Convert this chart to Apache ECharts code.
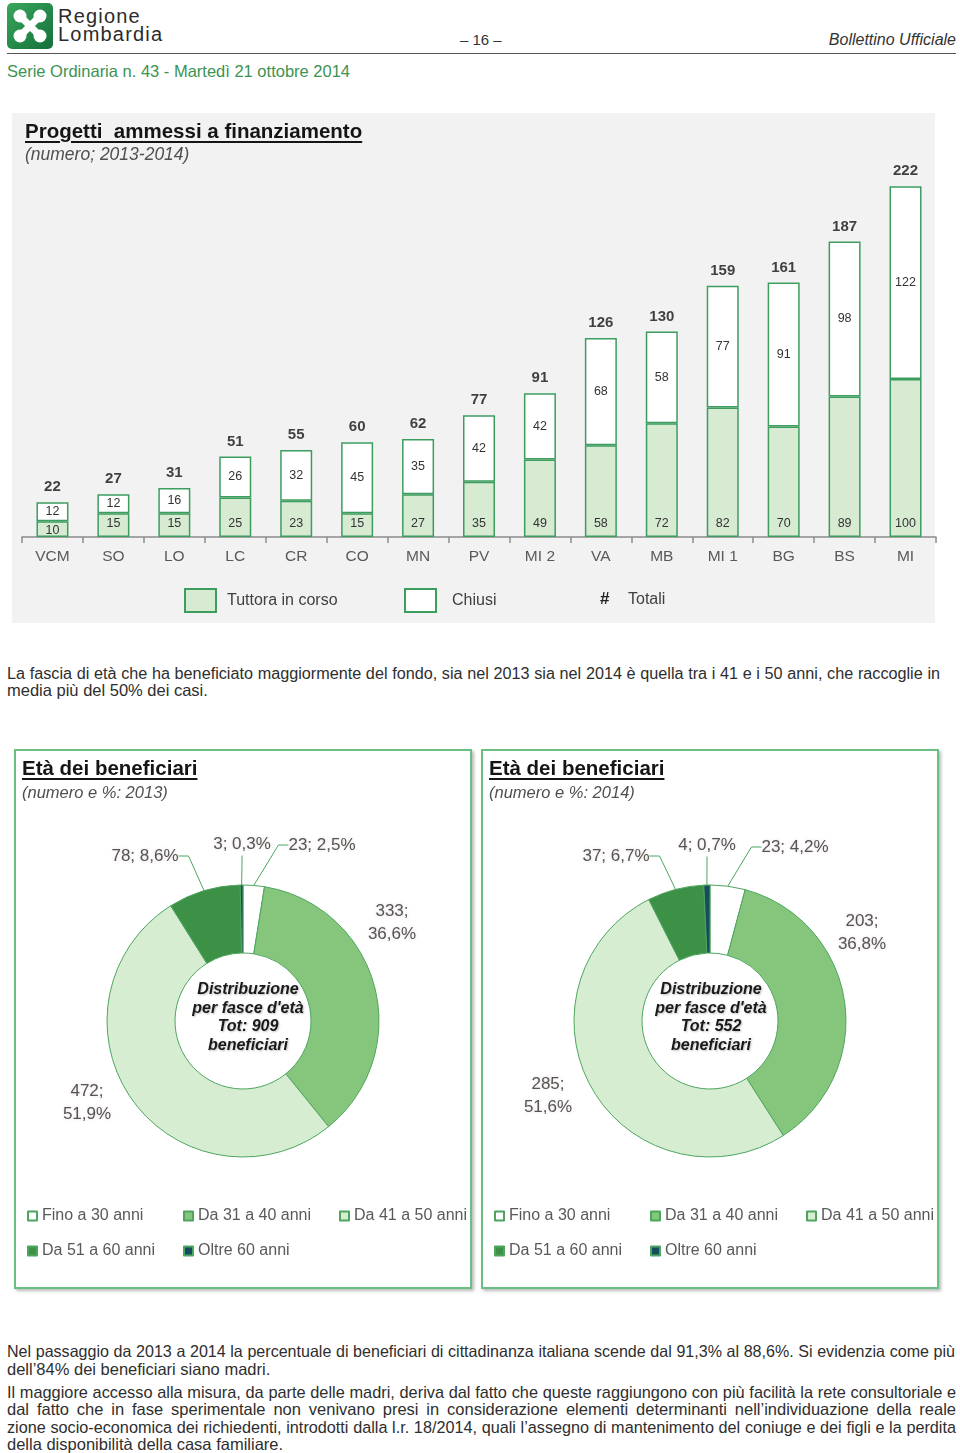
<!DOCTYPE html>
<html lang="it">
<head>
<meta charset="utf-8">
<title>Progetti ammessi a finanziamento – Età dei beneficiari</title>
<script src="https://cdn.jsdelivr.net/npm/echarts@6/dist/echarts.min.js"></script>
<style>
  html, body { margin:0; padding:0; background:#fff; }
  body { position:relative; width:960px; height:1453px; overflow:hidden; font-family:'Liberation Sans', Arial, sans-serif; color:#333; }
  .a { position:absolute; white-space:nowrap; }
  .ln { position:absolute; left:7px; font-size:16.5px; line-height:18px; height:18px; color:#2e2e2e; white-space:nowrap; }
  .j { overflow:hidden; }
  .box { position:absolute; box-sizing:border-box; }
  .ttl { font-weight:bold; font-size:20.5px; text-decoration:underline; text-decoration-thickness:2px; text-underline-offset:3px; color:#151515; }
  .sub { font-style:italic; color:#505050; }
  .ctr { position:absolute; width:160px; text-align:center; font-weight:bold; font-style:italic; font-size:16px; line-height:18.5px; color:#1a1a1a; text-shadow:1px 1px 2px rgba(0,0,0,0.25); }
  .chart { position:absolute; }
</style>
</head>
<body>
<!-- header -->
<svg class="a" style="left:7px;top:3px" width="46" height="46" viewBox="0 0 46 46">
  <defs><linearGradient id="lg" x1="0" y1="0" x2="1" y2="1"><stop offset="0" stop-color="#3aa65c"/><stop offset="1" stop-color="#14703a"/></linearGradient></defs>
  <rect x="0" y="0" width="46" height="46" rx="5" fill="url(#lg)"/>
  <path d="M14 14 L32 32 M32 14 L14 32" stroke="#fff" stroke-width="7" stroke-linecap="round"/>
  <g fill="#fff"><circle cx="13" cy="13" r="6.5"/><circle cx="33" cy="13" r="6.5"/><circle cx="13" cy="33" r="6.5"/><circle cx="33" cy="33" r="6.5"/></g>
</svg>
<div class="a" style="left:58px;top:6px;font-size:20px;line-height:20px;color:#2b2b2b;letter-spacing:1.2px">Regione</div>
<div class="a" style="left:58px;top:24px;font-size:20px;line-height:20px;color:#2b2b2b;letter-spacing:1.2px">Lombardia</div>
<div class="a" style="left:460px;top:31px;font-size:15px;line-height:18px;color:#333">– 16 –</div>
<div class="a" style="right:4px;top:30px;font-size:16px;line-height:19px;font-style:italic;color:#333">Bollettino Ufficiale</div>
<div class="a" style="left:7px;top:53px;width:949px;border-top:1.5px solid #555"></div>
<div class="a" style="left:7px;top:61px;font-size:16.5px;line-height:20px;color:#3c9352">Serie Ordinaria n. 43 - Martedì 21 ottobre 2014</div>

<!-- bar chart box -->
<div class="box" style="left:12px;top:113px;width:923px;height:510px;background:#f2f2f2"></div>
<div id="bar" class="chart" style="left:12px;top:113px;width:930px;height:510px"></div>
<div class="a ttl" style="left:25px;top:119px">Progetti&nbsp; ammessi a finanziamento</div>
<div class="a sub" style="left:25px;top:144px;font-size:17.5px;line-height:20px">(numero; 2013-2014)</div>

<!-- paragraph 1 -->
<div class="ln j" data-w="933" style="top:664px">La fascia di età che ha beneficiato maggiormente del fondo, sia nel 2013 sia nel 2014 è quella tra i 41 e i 50 anni, che raccoglie in</div>
<div class="ln" style="top:681px">media più del 50% dei casi.</div>

<!-- pie boxes -->
<div class="box" style="left:14px;top:749px;width:458px;height:540px;border:2px solid #6cbf84;box-shadow:2px 2px 3px rgba(0,0,0,0.28);background:#fff"></div>
<div class="box" style="left:481px;top:749px;width:458px;height:540px;border:2px solid #6cbf84;box-shadow:2px 2px 3px rgba(0,0,0,0.28);background:#fff"></div>
<div id="pie2013" class="chart" style="left:14px;top:749px;width:458px;height:540px"></div>
<div id="pie2014" class="chart" style="left:481px;top:749px;width:458px;height:540px"></div>
<div class="a ttl" style="left:22px;top:756px">Età dei beneficiari</div>
<div class="a sub" style="left:22px;top:782px;font-size:16.5px;line-height:20px">(numero e %: 2013)</div>
<div class="a ttl" style="left:489px;top:756px">Età dei beneficiari</div>
<div class="a sub" style="left:489px;top:782px;font-size:16.5px;line-height:20px">(numero e %: 2014)</div>
<div class="ctr" style="left:168px;top:980px">Distribuzione<br>per fasce d'età<br>Tot: 909<br>beneficiari</div>
<div class="ctr" style="left:631px;top:980px">Distribuzione<br>per fasce d'età<br>Tot: 552<br>beneficiari</div>

<!-- paragraphs 2 and 3 -->
<div class="ln j" data-w="948" style="top:1342px">Nel passaggio da 2013 a 2014 la percentuale di beneficiari di cittadinanza italiana scende dal 91,3% al 88,6%. Si evidenzia come più</div>
<div class="ln" style="top:1360px">dell’84% dei beneficiari siano madri.</div>
<div class="ln j" data-w="949" style="top:1383px">Il maggiore accesso alla misura, da parte delle madri, deriva dal fatto che queste raggiungono con più facilità la rete consultoriale e</div>
<div class="ln j" data-w="949" style="top:1400px">dal fatto che in fase sperimentale non venivano presi in considerazione elementi determinanti nell’individuazione della reale condi-</div>
<div class="ln j" data-w="949" style="top:1418px">zione socio-economica dei richiedenti, introdotti dalla l.r. 18/2014, quali l’assegno di mantenimento del coniuge e dei figli e la perdita</div>
<div class="ln" style="top:1435px">della disponibilità della casa familiare.</div>

<script>
// ---------- data ----------
const categories = ['VCM','SO','LO','LC','CR','CO','MN','PV','MI 2','VA','MB','MI 1','BG','BS','MI'];
const inCorso = [10,15,15,25,23,15,27,35,49,58,72,82,70,89,100];
const chiusi  = [12,12,16,26,32,45,35,42,42,68,58,77,91,98,122];
const totali  = [22,27,31,51,55,60,62,77,91,126,130,159,161,187,222];

const ageBands = ['Fino a 30 anni','Da 31 a 40 anni','Da 41 a 50 anni','Da 51 a 60 anni','Oltre 60 anni'];
const beneficiari2013 = [23,333,472,78,3];
const beneficiari2014 = [23,203,285,37,4];

// ---------- justified text lines: fit font, then justify ----------
document.querySelectorAll('.ln.j').forEach(el => {
  const target = +el.dataset.w;
  const natural = el.scrollWidth;
  if (natural > target) {
    el.style.fontSize = (16.5 * (target - 3) / natural).toFixed(2) + 'px';
  }
  el.style.width = target + 'px';
  el.style.whiteSpace = 'normal';
  el.style.textAlign = 'justify';
  el.style.textAlignLast = 'justify';
});

// ---------- styles ----------
const FONT = "'Liberation Sans', Arial, sans-serif";
const GREEN_BORDER = '#3d9d5f';
const ageColors = ['#ffffff','#86c67c','#d7edd1','#3c9146','#164c5e'];
const pieCenter = [229, 272];
const labelOffsets2013 = [[79,-176],[149,-98],[-156,82],[-98,-165],[-1,-177]];
const labelOffsets2014 = [[85,-174],[152,-88],[-162,75],[-94,-165],[-3,-176]];
// legend slot (left, top) inside each pie panel, one per age band
const legendSlots = [[13,459],[169,459],[325,459],[13,494],[169,494]];

// ---------- bar chart ----------
const bar = echarts.init(document.getElementById('bar'));
bar.setOption({
  animation: false,
  textStyle: { fontFamily: FONT },
  grid: { left: 10, width: 914, top: 29, bottom: 86, containLabel: false, outerBoundsMode: 'none' },
  xAxis: {
    type: 'category', data: categories,
    axisLine: { lineStyle: { color: '#8c8c8c', width: 1.5 } },
    axisTick: { show: true, length: 6, lineStyle: { color: '#8c8c8c', width: 1.5 } },
    axisLabel: { color: '#595959', fontSize: 15.5, margin: 12, interval: 0, fontFamily: FONT }
  },
  yAxis: { type: 'value', min: 0, max: 250, show: false, splitLine: { show: false } },
  legend: [
    { data: ['Tuttora in corso'], left: 172, top: 475, padding: 0, itemWidth: 31, itemHeight: 23, selectedMode: false, icon: 'rect',
      textStyle: { fontSize: 16, color: '#404040', padding: [0,0,0,6], fontFamily: FONT } },
    { data: ['Chiusi'], left: 392, top: 475, padding: 0, itemWidth: 31, itemHeight: 23, selectedMode: false, icon: 'rect',
      textStyle: { fontSize: 16, color: '#404040', padding: [0,0,0,11], fontFamily: FONT } },
    { data: ['Totali'], left: 582, top: 475, padding: 0, itemWidth: 1, itemHeight: 1, selectedMode: false, icon: 'rect',
      itemStyle: { color: 'rgba(0,0,0,0)', borderWidth: 0 },
      formatter: '{h|#}{t|{name}}',
      textStyle: { fontFamily: FONT, lineHeight: 23,
        rich: { h: { fontWeight: 'bold', fontSize: 17, color: '#222', width: 28 },
                t: { fontSize: 16, color: '#404040' } } } }
  ],
  series: [
    { name: 'Tuttora in corso', type: 'bar', stack: 'tot', barWidth: 32,
      // very short segments keep their label lower, as in the original
      data: inCorso.map(v => v < 12 ? { value: v, label: { distance: 0 } } : v),
      itemStyle: { color: '#d7ead2', borderColor: GREEN_BORDER, borderWidth: 1.5 },
      label: { show: true, position: 'insideBottom', distance: 7, color: '#333', fontSize: 12.5, fontFamily: FONT },
      emphasis: { disabled: true } },
    { name: 'Chiusi', type: 'bar', stack: 'tot', barWidth: 32, data: chiusi,
      itemStyle: { color: '#ffffff', borderColor: GREEN_BORDER, borderWidth: 1.5 },
      label: { show: true, position: 'inside', color: '#333', fontSize: 12.5, fontFamily: FONT },
      emphasis: { disabled: true } },
    { name: 'Totali', type: 'scatter', data: totali, symbolSize: 1,
      itemStyle: { color: 'rgba(0,0,0,0)' },
      label: { show: true, position: 'top', distance: 7, color: '#111', fontWeight: 'bold', fontSize: 15, fontFamily: FONT },
      emphasis: { disabled: true } }
  ]
});

// ---------- pie charts ----------
function pieLegends() {
  return ageBands.map((n, i) => ({
    data: [n], left: legendSlots[i][0], top: legendSlots[i][1], padding: 0,
    itemWidth: 9, itemHeight: 9, icon: 'rect', selectedMode: false,
    textStyle: { fontSize: 16, color: '#595959', fontFamily: FONT }
  }));
}
function pieOption(values, offsets) {
  return {
    animation: false,
    textStyle: { fontFamily: FONT },
    legend: pieLegends(),
    series: [{
      type: 'pie', radius: [68, 136], center: pieCenter, startAngle: 90, clockwise: true,
      avoidLabelOverlap: false,
      data: ageBands.map((n, i) => ({ name: n, value: values[i], itemStyle: { color: ageColors[i] },
                                      labelLine: { show: i !== 1 && i !== 2 } })),
      itemStyle: { borderColor: '#4da55e', borderWidth: 1 },
      label: {
        show: true, color: '#555', fontSize: 17, lineHeight: 23, fontFamily: FONT, align: 'center',
        textShadowColor: 'rgba(190,140,140,0.35)', textShadowBlur: 3,
        formatter: p => {
          const pct = p.percent.toFixed(1).replace('.', ',');
          return p.percent > 20 ? p.value + ';\n' + pct + '%' : p.value + '; ' + pct + '%';
        }
      },
      labelLine: { show: true, length: 10, length2: 10, lineStyle: { color: '#4da55e', width: 1 } },
      labelLayout: p => ({
        x: pieCenter[0] + offsets[p.dataIndex][0],
        y: pieCenter[1] + offsets[p.dataIndex][1],
        align: 'center', verticalAlign: 'middle'
      }),
      emphasis: { disabled: true, scale: false }
    }]
  };
}
echarts.init(document.getElementById('pie2013')).setOption(pieOption(beneficiari2013, labelOffsets2013));
echarts.init(document.getElementById('pie2014')).setOption(pieOption(beneficiari2014, labelOffsets2014));
</script>
</body>
</html>
